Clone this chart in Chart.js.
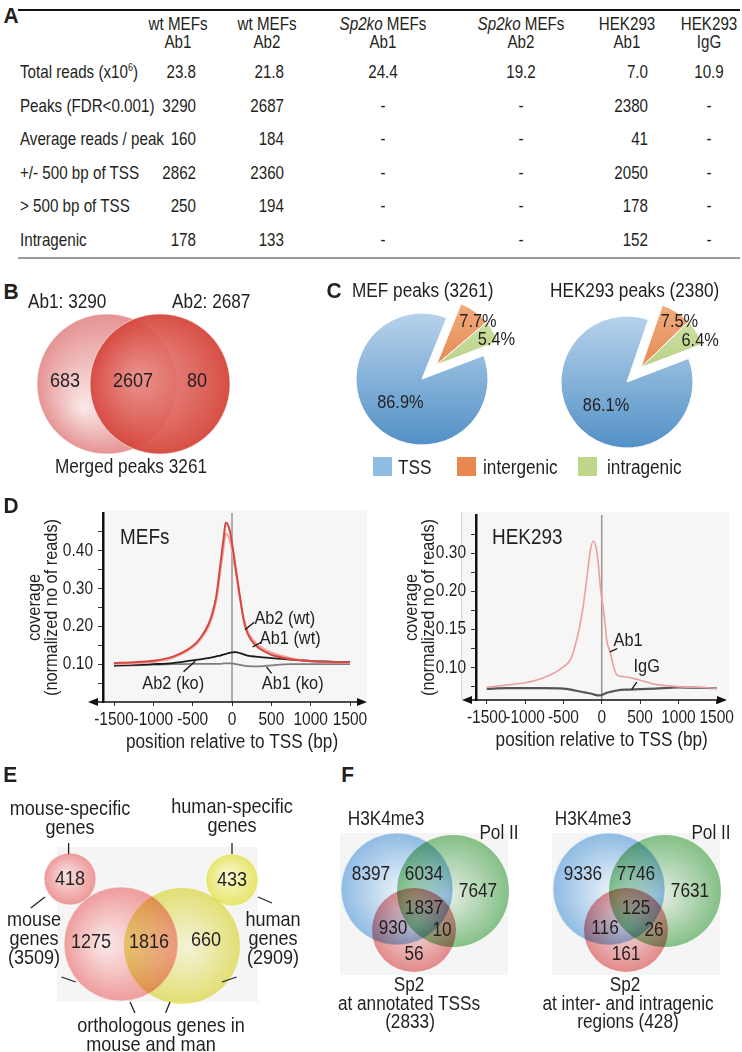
<!DOCTYPE html>
<html>
<head>
<meta charset="utf-8">
<title>Sp2 ChIP-seq overview</title>
<script src="https://cdn.jsdelivr.net/npm/chart.js@4.4.1/dist/chart.umd.min.js"></script>
<style>
  html, body { margin: 0; padding: 0; background: #fff; }
  #fig { position: relative; width: 742px; height: 1052px; overflow: hidden;
    font-family: "Liberation Sans", Arial, Helvetica, sans-serif; color: #231f20; }
  #fig canvas { position: absolute; }
  /* narrow look: regular face squeezed like a condensed Helvetica */
  .t { position: absolute; z-index: 2; white-space: nowrap; font-size: 18px; line-height: 1;
       transform-origin: 50% 50%; transform: translate(-50%, -50%) scaleX(var(--sx, 0.86)); }
  .l { transform-origin: 0 50%; transform: translate(0, -50%) scaleX(var(--sx, 0.86)); }
  .r { transform-origin: 100% 50%; transform: translate(-100%, -50%) scaleX(var(--sx, 0.86)); }
  .p { font-weight: bold; font-size: 22px; transform: translate(0, -50%) scaleX(0.95); }
  .rule { position: absolute; left: 18px; width: 722px; }
  sup { font-size: 11px; vertical-align: 7px; line-height: 0; }
  .sw { position: absolute; width: 19px; height: 19px; }
</style>
</head>
<body>
<div id="fig"></div>
<script>
// ---- A: table ----
const colHead = [['wt MEFs', 'Ab1'], ['wt MEFs', 'Ab2'], ['<i>Sp2ko</i> MEFs', 'Ab1'],
                 ['<i>Sp2ko</i> MEFs', 'Ab2'], ['HEK293', 'Ab1'], ['HEK293', 'IgG']];
const rowNames = ['Total reads (x10<sup>6</sup>)', 'Peaks (FDR&lt;0.001)', 'Average reads / peak',
                  '+/- 500 bp of TSS', '&gt; 500 bp of TSS', 'Intragenic'];
const totalReads = [23.8, 21.8, 24.4, 19.2, 7.0, 10.9];
const peaksFdr = [3290, 2687, null, null, 2380, null];
const readsPerPeak = [160, 184, null, null, 41, null];
const nearTss = [2862, 2360, null, null, 2050, null];
const farTss = [250, 194, null, null, 178, null];
const intragenicPeaks = [178, 133, null, null, 152, null];

// ---- B: peak overlap ----
const abTotals = [3290, 2687];
const abCounts = [683, 2607, 80];
const mergedPeaks = 3261;

// ---- C: peak location ----
const sliceNames = ['intergenic', 'intragenic', 'TSS'];
const mefShare = [7.7, 5.4, 86.9];
const hekShare = [7.5, 6.4, 86.1];
const mefPeaks = 3261, hekPeaks = 2380;

// ---- D: coverage profiles ----
const profileTicks = [-1500, -1000, -500, 0, 500, 1000, 1500];
const mefX = [-1500, -1250, -1000, -750, -500, -400, -300, -250, -200, -150, -100, -80, -50, -25, 0,
              50, 100, 150, 200, 300, 400, 500, 750, 1000, 1250, 1500];
const mefAb2wt = [0.103, 0.105, 0.109, 0.120, 0.148, 0.170, 0.205, 0.235, 0.280, 0.360, 0.445, 0.475, 0.468, 0.450, 0.420,
                  0.350, 0.280, 0.215, 0.180, 0.150, 0.135, 0.125, 0.113, 0.108, 0.106, 0.105];
const mefAb1wt = [0.100, 0.102, 0.106, 0.117, 0.144, 0.165, 0.198, 0.227, 0.268, 0.342, 0.418, 0.446, 0.440, 0.425, 0.400,
                  0.340, 0.275, 0.220, 0.186, 0.157, 0.141, 0.131, 0.116, 0.108, 0.105, 0.104];
const mefAb2ko = [0.097, 0.098, 0.100, 0.103, 0.110, 0.113, 0.116, 0.118, 0.121, 0.123, 0.126, 0.127, 0.129, 0.130, 0.131,
                  0.132, 0.129, 0.126, 0.123, 0.120, 0.118, 0.116, 0.112, 0.109, 0.107, 0.106];
const mefAb1ko = [0.095, 0.097, 0.099, 0.100, 0.101, 0.101, 0.101, 0.101, 0.101, 0.101, 0.102, 0.102, 0.102, 0.102, 0.102,
                  0.100, 0.098, 0.096, 0.095, 0.094, 0.095, 0.097, 0.100, 0.100, 0.100, 0.100];
const mefTicks = [0.05, 0.10, 0.15, 0.20, 0.25, 0.30, 0.35, 0.40, 0.45];
const mefTickLabels = [0.10, 0.20, 0.30, 0.40];

const hekX = [-1500, -1250, -1000, -750, -500, -400, -300, -250, -200, -150, -110, -75, -45, -15,
              20, 45, 65, 110, 150, 200, 300, 500, 700, 1000, 1250, 1500];
const hekAb1 = [0.074, 0.077, 0.080, 0.087, 0.101, 0.112, 0.148, 0.175, 0.225, 0.305, 0.332, 0.315, 0.272, 0.205,
                0.178, 0.156, 0.136, 0.120, 0.103, 0.090, 0.088, 0.0835, 0.078, 0.075, 0.074, 0.073];
const hekIgG = [0.072, 0.073, 0.073, 0.073, 0.0725, 0.071, 0.069, 0.068, 0.067, 0.066, 0.065, 0.064, 0.0635, 0.0635,
                0.065, 0.066, 0.067, 0.068, 0.069, 0.070, 0.071, 0.0717, 0.0725, 0.074, 0.0735, 0.073];
// the HEK293 axis is evenly spaced at these labels
const hekKnots = [0.10, 0.15, 0.20, 0.30];

// ---- E: orthologous genes ----
const mouseSpecific = 418, humanSpecific = 433;
const orthoCounts = [1275, 1816, 660];
const genomeTotals = [3509, 2909];

// ---- F: overlap with H3K4me3 / Pol II ----
// order: H3 only, H3+Pol, Pol only, all three, H3+Sp2, Pol+Sp2, Sp2 only
const tssOverlap = [8397, 6034, 7647, 1837, 930, 10, 56];
const otherOverlap = [9336, 7746, 7631, 125, 116, 26, 161];
const sp2Totals = [2833, 428];

const INK = '#231f20';
const SANS = '"Liberation Sans", Arial, Helvetica, sans-serif';
const SQUEEZE = 0.86;
const fig = document.getElementById('fig');

function txt(html, x, y, cls = '', size, sx) {
  const d = document.createElement('div');
  d.className = 't ' + cls;
  d.innerHTML = html;
  d.style.left = x + 'px';
  d.style.top = y + 'px';
  if (size) d.style.fontSize = size + 'px';
  if (sx) d.style.setProperty('--sx', sx);
  fig.appendChild(d);
  return d;
}
function addCanvas(left, top, w, h) {
  const c = document.createElement('canvas');
  c.width = w; c.height = h;
  c.style.left = left + 'px'; c.style.top = top + 'px';
  c.style.width = w + 'px'; c.style.height = h + 'px';
  fig.appendChild(c);
  return c;
}
function rule(y, h, color) {
  const d = document.createElement('div');
  d.className = 'rule';
  d.style.top = y + 'px'; d.style.height = h + 'px'; d.style.background = color;
  fig.appendChild(d);
}
// canvas text with the same squeeze as the html labels
function narrow(ctx, s, x, y, size, align = 'center', rot = 0) {
  ctx.save();
  ctx.font = `${size}px ${SANS}`;
  ctx.fillStyle = INK;
  ctx.textAlign = align;
  ctx.textBaseline = 'middle';
  ctx.translate(x, y);
  if (rot) ctx.rotate(rot);
  ctx.scale(SQUEEZE, 1);
  ctx.fillText(s, 0, 0);
  ctx.restore();
}

Chart.defaults.font.family = SANS;
Chart.defaults.font.size = 16;
Chart.defaults.color = INK;
Chart.defaults.animation = false;
Chart.defaults.plugins.legend.display = false;
Chart.defaults.plugins.tooltip.enabled = false;

// ---------- panel letters ----------
txt('A', 3, 16, 'p');
txt('B', 3, 292, 'p');
txt('C', 326, 291, 'p');
txt('D', 3, 506, 'p');
txt('E', 3, 775, 'p');
txt('F', 341, 775, 'p');

// ---------- A ----------
rule(9, 2, '#111');
rule(257, 2, '#9a9a9a');
const colMid = [178, 267, 383, 521, 627, 709];
const colRight = [196, 284, 0, 0, 648, 0];
const rowY = [72, 106, 139, 173, 206, 240];
const TB = 0.82;
colHead.forEach((c, j) => { txt(c[0], colMid[j], 24, '', 18.5, TB); txt(c[1], colMid[j], 42, '', 18.5, TB); });
[totalReads, peaksFdr, readsPerPeak, nearTss, farTss, intragenicPeaks].forEach((row, i) => {
  txt(rowNames[i], 20, rowY[i], 'l', 18.5, TB);
  row.forEach((v, j) => {
    if (v == null) { txt('-', colMid[j], rowY[i], '', 18.5, TB); return; }
    const s = i === 0 ? v.toFixed(1) : String(v);
    if (colRight[j]) txt(s, colRight[j], rowY[i], 'r', 18.5, TB); else txt(s, colMid[j], rowY[i], '', 18.5, TB);
  });
});

// ---------- venn helpers (bubble charts) ----------
function radial(c, circ) {
  const ch = c.chart;
  if (!ch.chartArea) return circ.outer;
  const px = ch.scales.x.getPixelForValue(circ.x), py = ch.scales.y.getPixelForValue(circ.y);
  const g = ch.ctx.createRadialGradient(px + circ.hl[0] * circ.r, py + circ.hl[1] * circ.r, 0, px, py, circ.r);
  g.addColorStop(0, circ.inner);
  g.addColorStop(1, circ.outer);
  return g;
}
const vennDeco = {
  id: 'vennDeco',
  beforeDraw(chart, args, o) {
    if (!o.bg) return;
    const {ctx, scales: {x, y}} = chart;
    const [bx, by, bw, bh] = o.bg;
    const x1 = x.getPixelForValue(bx), y1 = y.getPixelForValue(by);
    ctx.save();
    ctx.fillStyle = '#f5f5f5';
    ctx.fillRect(x1, y1, x.getPixelForValue(bx + bw) - x1, y.getPixelForValue(by + bh) - y1);
    ctx.restore();
  },
  beforeDatasetDraw(chart, args) {
    const b = chart.data.datasets[args.index].blend;
    if (b) chart.ctx.globalCompositeOperation = b;
  },
  afterDatasetDraw(chart) { chart.ctx.globalCompositeOperation = 'source-over'; },
  afterDatasetsDraw(chart, args, o) {
    const {ctx, scales: {x, y}} = chart;
    ctx.save();
    ctx.strokeStyle = '#222';
    ctx.lineWidth = 1.3;
    (o.lines || []).forEach(([x1, y1, x2, y2]) => {
      ctx.beginPath();
      ctx.moveTo(x.getPixelForValue(x1), y.getPixelForValue(y1));
      ctx.lineTo(x.getPixelForValue(x2), y.getPixelForValue(y2));
      ctx.stroke();
    });
    ctx.restore();
    o.counts.forEach((v, i) => {
      const [px, py] = o.at[i];
      narrow(ctx, String(v), x.getPixelForValue(px), y.getPixelForValue(py), o.size);
    });
  }
};
// scales run in page pixels so the layout below reads like the figure
function venn(left, top, w, h, circles, deco) {
  const cv = addCanvas(left, top, w, h);
  return new Chart(cv, {
    type: 'bubble',
    data: {
      datasets: circles.map((c, i) => ({
        data: [{x: c.x, y: c.y, r: c.r}],
        backgroundColor: ctx => radial(ctx, c),
        borderColor: c.edge || 'rgba(255,255,255,0.55)',
        borderWidth: 1,
        clip: false,
        order: circles.length - i,
        blend: c.blend
      }))
    },
    options: {
      responsive: false,
      layout: {autoPadding: false, padding: 0},
      scales: {
        x: {type: 'linear', min: left, max: left + w, display: false},
        y: {type: 'linear', min: top, max: top + h, reverse: true, display: false}
      },
      plugins: {vennDeco: deco}
    },
    plugins: [vennDeco]
  });
}

// ---------- B ----------
txt(`Ab1: ${abTotals[0]}`, 28, 301, 'l', 20);
txt(`Ab2: ${abTotals[1]}`, 172, 301, 'l', 20);
txt(`Merged peaks ${mergedPeaks}`, 131, 466, '', 20);
venn(0, 305, 260, 160, [
  {x: 107, y: 384, r: 70, inner: '#fae8e8', outer: '#e69393', hl: [-0.35, 0.35]},
  {x: 160, y: 384, r: 70, inner: 'rgba(234,142,136,0.9)', outer: 'rgba(213,68,58,0.94)', hl: [-0.35, -0.1]}
], {counts: abCounts, at: [[65, 381], [133, 381], [197, 381]], size: 21});

// ---------- C ----------
const sliceColors = [['#f2ae80', '#d8682c'], ['#d6e6ad', '#9cbf63'], ['#b7d2eb', '#5290c6']];
function pieFill(c) {
  const ch = c.chart, a = ch.chartArea;
  const base = sliceColors[c.dataIndex] || sliceColors[2];
  if (!a) return base[1];
  const cy = (a.top + a.bottom) / 2;
  const g = ch.ctx.createLinearGradient(0, cy - 66, 0, cy + 66);
  g.addColorStop(0, base[0]);
  g.addColorStop(1, base[1]);
  return g;
}
const pieDeco = {
  id: 'pieDeco',
  beforeDatasetDraw(chart, args, o) {
    const ctx = chart.ctx, arcs = args.meta.data;
    const grp = arcs.filter((a, i) => o.explode[i]);
    const h = (grp[0].startAngle + grp[grp.length - 1].endAngle) / 2;
    const dx = Math.cos(h) * o.dist, dy = Math.sin(h) * o.dist;
    arcs.forEach((a, i) => {
      ctx.save();
      if (o.explode[i]) ctx.translate(dx, dy);
      a.draw(ctx);
      ctx.restore();
    });
    return false;
  },
  afterDatasetsDraw(chart, args, o) {
    const arcs = chart.getDatasetMeta(0).data, vals = chart.data.datasets[0].data;
    arcs.forEach((a, i) => {
      const [d, da] = o.at[i];
      const m = (a.startAngle + a.endAngle) / 2 + da * Math.PI / 180;
      narrow(chart.ctx, vals[i].toFixed(1) + '%', a.x + Math.cos(m) * d, a.y + Math.sin(m) * d, 19);
    });
  }
};
// canvas is centred on the pie; wide enough for the outer labels
function pie(cx, cy, share, rot) {
  const cv = addCanvas(cx - 115, cy - 95, 230, 190);
  return new Chart(cv, {
    type: 'pie',
    data: {labels: sliceNames, datasets: [{data: share, backgroundColor: pieFill, borderColor: '#fff', borderWidth: 1}]},
    options: {
      responsive: false, radius: 66, rotation: rot,
      layout: {autoPadding: false, padding: 0},
      plugins: {pieDeco: {explode: [true, true, false], dist: 20, at: [[80, 8.5], [84, 3], [32, -3]]}}
    },
    plugins: [pieDeco]
  });
}
txt(`MEF peaks (${mefPeaks})`, 352, 290, 'l', 20);
txt(`HEK293 peaks (${hekPeaks})`, 550, 290, 'l', 20);
pie(422, 379, mefShare, 22);
pie(627, 382, hekShare, 19);
const legendCols = {TSS: '#90bde2', intergenic: '#e8884e', intragenic: '#bfd68b'};
[['TSS', 373, 398], ['intergenic', 457, 483], ['intragenic', 578, 607]].forEach(([name, sx, tx]) => {
  const s = document.createElement('div');
  s.className = 'sw';
  s.style.left = sx + 'px'; s.style.top = '457px'; s.style.background = legendCols[name];
  fig.appendChild(s);
  txt(name, tx, 467, 'l', 20);
});

// ---------- D ----------
const profileDeco = {
  id: 'profileDeco',
  beforeDraw(chart, args, o) {
    const {ctx, chartArea: a, scales: {x}} = chart;
    ctx.save();
    ctx.fillStyle = '#f6f6f6';
    ctx.fillRect(a.left - o.bgLeft, a.top - 3, a.right - a.left + o.bgLeft + o.bgRight, a.bottom - a.top + 3);
    if (o.bgLeft) {
      ctx.strokeStyle = '#d8d8d8'; ctx.lineWidth = 1;
      ctx.beginPath(); ctx.moveTo(a.left - o.bgLeft + 0.5, a.top - 3); ctx.lineTo(a.left - o.bgLeft + 0.5, a.bottom); ctx.stroke();
    }
    const x0 = x.getPixelForValue(0);
    ctx.strokeStyle = '#9a9a9a'; ctx.lineWidth = 1.6;
    ctx.beginPath(); ctx.moveTo(x0, a.top); ctx.lineTo(x0, a.bottom); ctx.stroke();
    ctx.restore();
  },
  afterDatasetsDraw(chart, args, o) {
    const {ctx, chartArea: a, scales: {x, y}} = chart;
    ctx.save();
    ctx.strokeStyle = '#111'; ctx.lineWidth = 1.3;
    o.lines.forEach(([x1, y1, x2, y2]) => {
      ctx.beginPath();
      ctx.moveTo(x.getPixelForValue(x1), y.getPixelForValue(y1));
      ctx.lineTo(x.getPixelForValue(x2), y.getPixelForValue(y2));
      ctx.stroke();
    });
    // double-headed x axis
    const yy = a.bottom, L = a.left - o.arrowLeft, R = a.right;
    ctx.fillStyle = '#111'; ctx.lineWidth = 1.6;
    ctx.beginPath(); ctx.moveTo(L + 5, yy); ctx.lineTo(R - 5, yy); ctx.stroke();
    ctx.beginPath(); ctx.moveTo(L, yy); ctx.lineTo(L + 10, yy - 4); ctx.lineTo(L + 10, yy + 4); ctx.closePath(); ctx.fill();
    ctx.beginPath(); ctx.moveTo(R, yy); ctx.lineTo(R - 10, yy - 4); ctx.lineTo(R - 10, yy + 4); ctx.closePath(); ctx.fill();
    ctx.restore();
    o.notes.forEach(([t, px, py]) => narrow(ctx, t, x.getPixelForValue(px), y.getPixelForValue(py), 19));
  },
  afterDraw(chart, args, o) {
    // tick labels and titles, placed from the chart's own scales
    const {ctx, chartArea: a, scales: {x, y}} = chart;
    x.ticks.forEach(t => narrow(ctx, String(t.value), x.getPixelForValue(t.value), a.bottom + 18, 18));
    y.ticks.forEach(t => {
      const lab = o.yLabel(t.value);
      if (lab) narrow(ctx, lab, a.left - 10, y.getPixelForValue(t.value), 18, 'right');
    });
    narrow(ctx, 'position relative to TSS (bp)', (x.getPixelForValue(-1500) + x.getPixelForValue(1500)) / 2, a.bottom + 40, 20);
    const cy = (a.top + a.bottom) / 2;
    narrow(ctx, 'coverage', a.left - o.titleX[0], cy, 19, 'center', -Math.PI / 2);
    narrow(ctx, '(normalized no of reads)', a.left - o.titleX[1], cy, 19, 'center', -Math.PI / 2);
  }
};
function profile(left, top, w, h, cfg) {
  const cv = addCanvas(left, top, w, h);
  return new Chart(cv, {
    type: 'line',
    data: {
      datasets: cfg.series.map(s => ({
        data: cfg.xs.map((x, i) => ({x, y: cfg.toAxis(s.values[i])})),
        borderColor: s.color, borderWidth: s.width, pointRadius: 0,
        cubicInterpolationMode: 'monotone', fill: false
      }))
    },
    options: {
      responsive: false,
      layout: {autoPadding: false, padding: {top: cfg.padTop, right: cfg.padRight, left: 0, bottom: 0}},
      scales: {
        x: {
          type: 'linear', min: cfg.xMin, max: cfg.xMax,
          afterBuildTicks: s => { s.ticks = profileTicks.map(v => ({value: v})); },
          afterFit: s => { s.height = cfg.xH; },
          ticks: {display: false},
          grid: {drawOnChartArea: false, tickLength: 4, color: '#333'},
          border: {display: false}
        },
        y: {
          type: 'linear', min: cfg.yMin, max: cfg.yMax,
          afterBuildTicks: s => { s.ticks = cfg.yTicks.map(v => ({value: v})); },
          afterFit: s => { s.width = cfg.yW; },
          ticks: {display: false},
          grid: {drawOnChartArea: false, tickLength: 5, color: '#333'},
          border: {color: '#111', width: 2.5}
        }
      },
      plugins: {profileDeco: Object.assign({yLabel: cfg.yLabel, titleX: cfg.titleX}, cfg.deco)}
    },
    plugins: [profileDeco]
  });
}
const near = (a, b) => Math.abs(a - b) < 1e-6;
profile(0, 495, 378, 265, {
  xs: mefX, xMin: -1640, xMax: 1716, xH: 58, yW: 103, padTop: 18, padRight: 11, titleX: [68, 51],
  yMin: 0, yMax: 0.5, yTicks: mefTicks, toAxis: v => v,
  yLabel: v => mefTickLabels.some(m => near(m, v)) ? v.toFixed(2) : '',
  series: [
    {values: mefAb2wt, color: '#d8473f', width: 2},
    {values: mefAb1wt, color: '#eea9a7', width: 2},
    {values: mefAb2ko, color: '#1a1a1a', width: 1.8},
    {values: mefAb1ko, color: '#7d7d7d', width: 1.8}
  ],
  deco: {
    bgLeft: 0, bgRight: 0, arrowLeft: 15,
    lines: [[165, 0.191, 282, 0.211], [262, 0.1455, 376, 0.1587], [-616, 0.080, -468, 0.108], [439, 0.093, 503, 0.0755]],
    notes: [['Ab2 (wt)', 671, 0.220], ['Ab1 (wt)', 740, 0.168], ['Ab2 (ko)', -747, 0.047], ['Ab1 (ko)', 772, 0.047]]
  }
});
function hekAxis(v) {
  const k = hekKnots;
  if (v <= k[1]) return 1 + (v - k[0]) / (k[1] - k[0]);
  if (v <= k[2]) return 2 + (v - k[1]) / (k[2] - k[1]);
  return 3 + (v - k[2]) / (k[3] - k[2]);
}
profile(378, 495, 364, 265, {
  xs: hekX, xMin: -1640, xMax: 1634, xH: 60, yW: 98, padTop: 20, padRight: 15, titleX: [64, 47],
  yMin: 0.15, yMax: 5.0, yTicks: [0.5, 1, 1.5, 2, 2.5, 3, 3.5, 4, 4.5], toAxis: hekAxis,
  yLabel: v => Number.isInteger(v) ? hekKnots[v - 1].toFixed(2) : '',
  series: [
    {values: hekAb1, color: '#eaa0a0', width: 1.6},
    {values: hekIgG, color: '#555555', width: 2.2}
  ],
  deco: {
    bgLeft: 15, bgRight: 2, arrowLeft: 14,
    lines: [[108, 1.41, 204, 1.50], [392, 0.43, 457, 0.62]],
    notes: [['Ab1', 343, 1.71], ['IgG', 587, 1.02]]
  }
});
txt('MEFs', 120, 537, 'l', 22);
txt('HEK293', 492, 537, 'l', 22);

// ---------- E ----------
txt('mouse-specific', 70, 807, '', 21); txt('genes', 70, 826, '', 21);
txt('human-specific', 232, 805, '', 21); txt('genes', 232, 824, '', 21);
txt('mouse', 34, 918, '', 21); txt('genes', 34, 937, '', 21); txt(`(${genomeTotals[0]})`, 34, 956, '', 21);
txt('human', 273, 918, '', 21); txt('genes', 273, 937, '', 21); txt(`(${genomeTotals[1]})`, 273, 956, '', 21);
txt('orthologous genes in', 161, 1024, '', 21); txt('mouse and man', 151, 1043, '', 21);
venn(0, 790, 330, 262, [
  {x: 70, y: 879, r: 26, inner: '#fae4e4', outer: '#ed9898', hl: [-0.2, -0.2]},
  {x: 232, y: 880, r: 26, inner: '#fafad0', outer: '#e6e46c', hl: [-0.2, -0.2]},
  {x: 121, y: 944, r: 57, inner: '#fbeaea', outer: '#ef9c9c', hl: [-0.3, 0]},
  {x: 182, y: 946, r: 58, inner: '#fdfde2', outer: '#ebe878', hl: [0.1, 0], blend: 'multiply'}
], {
  bg: [57, 847, 201, 155], size: 21,
  counts: [mouseSpecific, humanSpecific, ...orthoCounts],
  at: [[70, 879], [232, 880], [91, 942], [149, 942], [206, 940]],
  lines: [[68.6, 843, 68.6, 854], [232, 843, 232, 854], [30.8, 908, 45, 897], [258, 897, 272, 903],
          [61.5, 977, 75.7, 982], [222, 982, 236.6, 977], [130, 1002, 135, 1013], [170, 1002, 165.6, 1013]]
});

// ---------- F ----------
function tripleVenn(left, dx, counts) {
  return venn(left, 800, 200, 190, [
    {x: 397 + dx, y: 889, r: 56, inner: '#f4f8fc', outer: '#8fbbe3', hl: [0.15, 0.1]},
    {x: 453 + dx, y: 891, r: 56, inner: '#f0f8f0', outer: '#8ac88c', hl: [-0.1, 0.1], blend: 'multiply'},
    {x: 414 + dx, y: 930, r: 42, inner: '#fce6e6', outer: '#ec9090', hl: [0, -0.1], blend: 'multiply'}
  ], {
    bg: [340 + dx, 833, 168, 142], size: 20, counts,
    at: [[371 + dx, 874], [424 + dx, 874], [478 + dx, 891], [424 + dx, 908], [393 + dx, 928], [442 + dx, 930], [414 + dx, 954]]
  });
}
tripleVenn(335, 0, tssOverlap);
tripleVenn(545, 212, otherOverlap);
txt('H3K4me3', 386, 818, '', 20); txt('Pol II', 499, 832, '', 20);
txt('Sp2', 409, 984, '', 20); txt('at annotated TSSs', 409, 1003, '', 20); txt(`(${sp2Totals[0]})`, 410, 1021, '', 20);
txt('H3K4me3', 593, 818, '', 20); txt('Pol II', 711, 832, '', 20);
txt('Sp2', 625, 984, '', 20); txt('at inter- and intragenic', 628, 1003, '', 20); txt(`regions (${sp2Totals[1]})`, 628, 1021, '', 20);
</script>
</body>
</html>
